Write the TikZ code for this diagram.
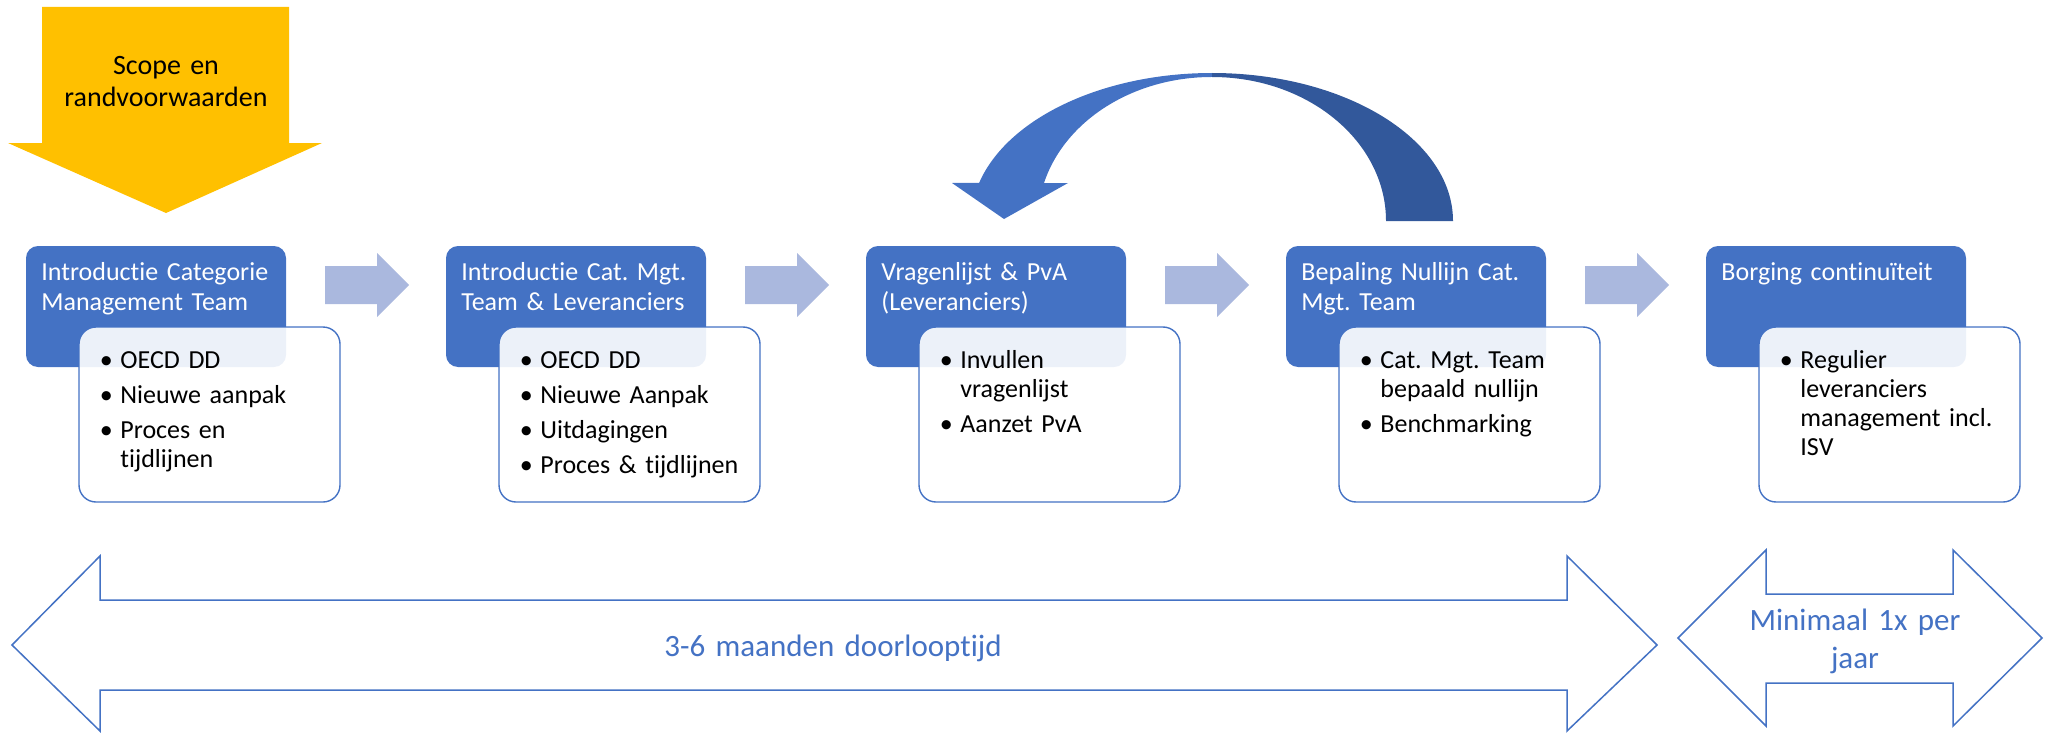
\documentclass[tikz,border=0pt]{standalone}
\usepackage{fontspec}
\setmainfont{Carlito}[Ligatures=NoCommon]
\usetikzlibrary{calc}

\definecolor{accent}{RGB}{68,114,196}
\definecolor{accentdark}{RGB}{50,88,155}
\definecolor{connector}{RGB}{170,184,222}
\definecolor{gold}{RGB}{255,192,0}

% bullet hanging to the left of the item text
\newcommand\itembul{\leavevmode\llap{\makebox[14pt][c]{\textbullet}}}

\begin{document}
\frenchspacing
\begin{tikzpicture}[x=0.5pt,y=-0.5pt,
  titlebox/.style={draw=none, fill=accent, rounded corners=6pt, minimum width=130pt,
    minimum height=60.5pt, anchor=north west, inner sep=0pt, outer sep=0pt},
  listbox/.style={draw=accent, line width=0.7pt, fill=white, fill opacity=0.9,
    rounded corners=8.5pt, minimum width=130.5pt, minimum height=87.5pt,
    anchor=north west, inner sep=0pt, outer sep=0pt},
  titletext/.style={anchor=base west, inner sep=0pt, text=white,
    font=\fontsize{13}{15}\selectfont\frenchspacing, align=left, text width=125pt},
  listtext/.style={anchor=base west, inner sep=0pt, text=black,
    font=\fontsize{13}{14.5}\selectfont\frenchspacing, align=left, text width=110pt},
  flowarrow/.style={fill=connector},
  spanarrow/.style={draw=accent, line width=0.75pt, fill=white, line join=miter},
  spantext/.style={text=accent, font=\fontsize{15.5}{19}\selectfont, align=center,
    text width=150pt, inner sep=0pt, anchor=base}
]
\useasboundingbox (0,0) rectangle (2049,733);

% scope block arrow
\fill[gold] (42,7) -- (289,7) -- (289,143) -- (322,143) -- (166,213) -- (8,143) -- (42,143) -- cycle;
\node[anchor=base, inner sep=0pt, text width=110pt, align=center,
  font=\fontsize{14}{16}\selectfont] (scope) at (166,75) {Scope en\\randvoorwaarden};

% step 1
\node[titlebox] (t0) at (26,246) {};
\node[listbox] (l0) at (79,327) {};
\node[titletext] (h0) at (41,280) {Introductie Categorie\\Management Team};
\node[listtext] (b0) at (120,368) {\itembul OECD DD\\[3pt]\itembul Nieuwe aanpak\\[3pt]\itembul Proces en\\tijdlijnen};

% step 2
\node[titlebox] (t1) at (446,246) {};
\node[listbox] (l1) at (499,327) {};
\node[titletext] (h1) at (461,280) {Introductie Cat. Mgt.\\Team \& Leveranciers};
\node[listtext] (b1) at (540,368) {\itembul OECD DD\\[3pt]\itembul Nieuwe Aanpak\\[3pt]\itembul Uitdagingen\\[3pt]\itembul Proces \& tijdlijnen};

% step 3
\node[titlebox] (t2) at (866,246) {};
\node[listbox] (l2) at (919,327) {};
\node[titletext] (h2) at (881,280) {Vragenlijst \& PvA\\(Leveranciers)};
\node[listtext] (b2) at (960,368) {\itembul Invullen\\vragenlijst\\[3pt]\itembul Aanzet PvA};

% step 4
\node[titlebox] (t3) at (1286,246) {};
\node[listbox] (l3) at (1339,327) {};
\node[titletext] (h3) at (1301,280) {Bepaling Nullijn Cat.\\Mgt. Team};
\node[listtext] (b3) at (1380,368) {\itembul Cat. Mgt. Team\\bepaald nullijn\\[3pt]\itembul Benchmarking};

% step 5
\node[titlebox] (t4) at (1706,246) {};
\node[listbox] (l4) at (1759,327) {};
\node[titletext] (h4) at (1721,280) {Borging continuïteit};
\node[listtext] (b4) at (1800,368) {\itembul Regulier\\leveranciers\\management incl.\\ISV};

% block arrows between consecutive steps
\foreach \k in {0,...,3}{
  \fill[flowarrow] ($(t\k.north east)+(39,20)$) -- ++(52,0) -- ++(0,-13) -- ++(32,32)
    -- ++(-32,32) -- ++(0,-13) -- ++(-52,0) -- cycle;
}

% feedback arrow from step 4 back to step 3
\fill[accentdark] (1212,73) arc[start angle=270, end angle=360, x radius=241, y radius=148]
  -- (1386,221) arc[start angle=0, end angle=-90, x radius=174, y radius=144] -- cycle;
\fill[accent] (1212,73) arc[start angle=270, end angle=194.9, x radius=241, y radius=148]
  -- (952,183) -- (1004,219) -- (1068,183) -- (1044,183)
  arc[start angle=195.3, end angle=270, x radius=174, y radius=144] -- cycle;

% duration arrows
\draw[spanarrow] (12,645) -- (100,556) -- (100,600) -- (1567,600) -- (1567,556) -- (1657,645)
  -- (1567,731) -- (1567,690) -- (100,690) -- (100,731) -- cycle;
\node[spantext, text width=250pt] (dur) at (833,656) {3-6 maanden doorlooptijd};

\draw[spanarrow] (1678,638) -- (1766,550) -- (1766,594) -- (1953,594) -- (1953,550) -- (2042,638)
  -- (1953,726) -- (1953,683) -- (1766,683) -- (1766,726) -- cycle;
\node[spantext] (freq) at (1855,630) {Minimaal 1x per\\jaar};
\end{tikzpicture}
\end{document}
